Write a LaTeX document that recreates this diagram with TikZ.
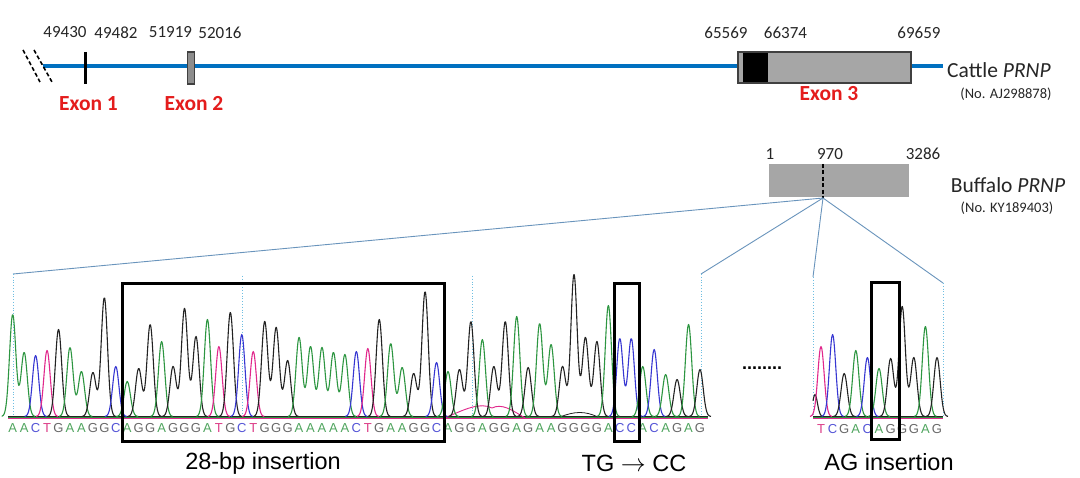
\documentclass[tikz,border=0pt]{standalone}
\usepackage{fontspec}
\setmainfont{Carlito}
\newfontfamily\arialf{Liberation Sans}
\definecolor{lineblue}{RGB}{0,112,192}
\definecolor{exred}{RGB}{228,28,28}
\definecolor{boxgray}{RGB}{166,166,166}
\definecolor{conn}{RGB}{105,148,188}
\definecolor{dotc}{RGB}{110,190,225}
\definecolor{colA}{RGB}{45,150,65}
\definecolor{colC}{RGB}{55,55,210}
\definecolor{colG}{RGB}{35,35,35}
\definecolor{colT}{RGB}{225,40,140}
\definecolor{letA}{RGB}{80,165,95}
\definecolor{letC}{RGB}{85,85,215}
\definecolor{letG}{RGB}{105,105,105}
\definecolor{letT}{RGB}{220,60,135}
\tikzset{
  numlbl/.style={font=\fontsize{17}{19}\selectfont, text=black!85, inner sep=0},
  exlbl/.style={font=\fontsize{21.5}{23}\selectfont\bfseries, text=exred, inner sep=0},
  genelbl/.style={font=\fontsize{21.5}{24}\selectfont, text=black!85, inner sep=0},
  acclbl/.style={font=\fontsize{14.5}{16}\selectfont, text=black!85, inner sep=0},
  botlbl/.style={font=\arialf\fontsize{23.5}{26}\selectfont, text=black, inner sep=0},
  seqlet/.style={font=\arialf\fontsize{13}{14}\selectfont, inner sep=0},
  connline/.style={conn, line width=0.9},
  dotv/.style={dotc, dotted, line width=0.8},
  hlbox/.style={draw=black, line width=3},
  peak/.style={line width=1.1, line join=round}
}
% one run of same-coloured peaks: #1 base letter, #2 x of index 0, #3 spacing, #4 first index, #5 heights
\newcommand\chrun[5]{%
  \gdef\pkexpr{0}%
  \foreach \hh [count=\k from 0] in {#5} {%
    \pgfmathsetmacro\xk{#2+#3*(#4+\k)}%
    \xdef\pkexpr{\unexpanded\expandafter{\pkexpr}+\hh*exp(-((\noexpand\x-\xk)^2)/20)}%
    \xdef\xlast{\xk}%
  }%
  \pgfmathsetmacro\xfirst{#2+#3*#4}%
  \pgfmathtruncatemacro\nsamp{(\xlast-\xfirst+22)*1.3+5}%
  \draw[peak,col#1] plot[domain=\xfirst-11:\xlast+11, samples=\nsamp, smooth] (\x,{416.5-(\pkexpr)});
}
\begin{document}
\begin{tikzpicture}[x=1pt,y=-1pt]
\useasboundingbox (0,0) rectangle (1080,478);
\fill[white] (0,0) rectangle (1080,478);

% ---------------- Cattle PRNP ----------------
\coordinate (bl0) at (43,66);
\coordinate (bl1) at (738,66);
\coordinate (bl2) at (911,66);
\coordinate (bl3) at (943,66);
\draw[lineblue, line width=4] (bl0) -- (bl1);
\draw[lineblue, line width=4] (bl2) -- (bl3);
\coordinate (s1a) at (23,50); \coordinate (s1b) at (40,82);
\coordinate (s2a) at (34,50); \coordinate (s2b) at (52,82);
\draw[line width=1.6, dash pattern=on 4pt off 2.5pt] (s1a) -- (s1b);
\draw[line width=1.6, dash pattern=on 4pt off 2.5pt] (s2a) -- (s2b);
% exon 1
\coordinate (e1a) at (85,52); \coordinate (e1b) at (85,84);
\draw[line width=3] (e1a) -- (e1b);
% exon 2
\node[draw=black!75, fill=boxgray!85!black, line width=1.2, minimum width=6.6pt, minimum height=32pt, inner sep=0] (ex2) at (191,68) {};
% exon 3
\fill[boxgray] (738,52) rectangle (911,83);
\fill[black] (743,52) rectangle (768,83);
\draw[black!75, line width=1.3] (738,52) rectangle (911,83);

\node[numlbl] (n1) at (65,32.5) {49430};
\node[numlbl] (n2) at (116,32.5) {49482};
\node[numlbl] (n3) at (170.5,32.5) {51919};
\node[numlbl] (n4) at (220,32.5) {52016};
\node[numlbl] (n5) at (726,32.5) {65569};
\node[numlbl] (n6) at (785.5,32.5) {66374};
\node[numlbl] (n7) at (919,32.5) {69659};

\node[exlbl] (x1) at (88.5,104) {Exon 1};
\node[exlbl] (x2) at (194,104) {Exon 2};
\node[exlbl] (x3) at (829,94) {Exon 3};

\node[genelbl, anchor=west] (cattle) at (947,70) {Cattle \textit{PRNP}};
\node[acclbl] (cacc) at (1006,94) {(No. AJ298878)};

% ---------------- Buffalo PRNP ----------------
\fill[boxgray] (769,164) rectangle (909,197);
\coordinate (b970t) at (823,164);
\coordinate (b970) at (823,198);
\draw[line width=2.6, dash pattern=on 4pt off 2.4pt] (b970t) -- (b970);
\node[numlbl] (m1) at (770,154) {1};
\node[numlbl] (m2) at (830,154) {970};
\node[numlbl] (m3) at (923,154) {3286};
\node[genelbl] (buff) at (1008,185) {Buffalo \textit{PRNP}};
\node[acclbl] (bacc) at (1007,208.5) {(No. KY189403)};

% connectors
\coordinate (cL1) at (13,274);
\coordinate (cL2) at (701,274);
\coordinate (cR1) at (813,277);
\coordinate (cR2) at (943,283);
\coordinate (dL1) at (13,415);
\coordinate (dL2) at (701,415);
\coordinate (dR1) at (813,415);
\coordinate (dR2) at (943,415);
\draw[connline] (b970) -- (cL1);
\draw[connline] (b970) -- (cL2);
\draw[connline] (b970) -- (cR1);
\draw[connline] (b970) -- (cR2);
\draw[dotv] (cL1) -- (dL1);
\draw[dotv] (cL2) -- (dL2);
\draw[dotv] (cR1) -- (dR1);
\draw[dotv] (cR2) -- (dR2);
\coordinate (mk1a) at (242,276); \coordinate (mk1b) at (242,415);
\coordinate (mk2a) at (472,276); \coordinate (mk2b) at (472,415);
\draw[dotv] (mk1a) -- (mk1b);
\draw[dotv] (mk2a) -- (mk2b);

% ---------------- chromatogram left ----------------
\draw[colA, line width=0.7] (8,417.5) -- (708,417.5);
\draw[colC, line width=0.7] (8,416.8) -- (708,416.8);
\draw[colT, line width=0.8] (8,418.3) -- (708,418.3);
\draw[colG, line width=0.8] (8,416.2) -- (708,416.2);
\draw[colT, line width=0.9] (445,418) .. controls (465,409) and (480,402) .. (492,408) .. controls (502,403) and (512,410) .. (525,418);
\draw[colG, line width=0.8] (560,417) .. controls (575,411) and (585,411) .. (598,417);

\def\xa{12.7}\def\dxa{11.455}
\chrun{A}{\xa}{\dxa}{0}{102,64}
\chrun{C}{\xa}{\dxa}{2}{61}
\chrun{T}{\xa}{\dxa}{3}{66}
\chrun{G}{\xa}{\dxa}{4}{87}
\chrun{A}{\xa}{\dxa}{5}{69,45}
\chrun{G}{\xa}{\dxa}{7}{44,119}
\chrun{C}{\xa}{\dxa}{9}{50}
\chrun{A}{\xa}{\dxa}{10}{35}
\chrun{G}{\xa}{\dxa}{11}{48,92}
\chrun{A}{\xa}{\dxa}{13}{75}
\chrun{G}{\xa}{\dxa}{14}{50,108,80}
\chrun{A}{\xa}{\dxa}{17}{97}
\chrun{T}{\xa}{\dxa}{18}{70}
\chrun{G}{\xa}{\dxa}{19}{104}
\chrun{C}{\xa}{\dxa}{20}{82}
\chrun{T}{\xa}{\dxa}{21}{65}
\chrun{G}{\xa}{\dxa}{22}{95,89,56}
\chrun{A}{\xa}{\dxa}{25}{79,70,69,64,62}
\chrun{C}{\xa}{\dxa}{30}{65}
\chrun{T}{\xa}{\dxa}{31}{68}
\chrun{G}{\xa}{\dxa}{32}{97}
\chrun{A}{\xa}{\dxa}{33}{73,49}
\chrun{G}{\xa}{\dxa}{35}{43,125}
\chrun{C}{\xa}{\dxa}{37}{54}
\chrun{A}{\xa}{\dxa}{38}{45}
\chrun{G}{\xa}{\dxa}{39}{47,95}
\chrun{A}{\xa}{\dxa}{41}{77}
\chrun{G}{\xa}{\dxa}{42}{50,95}
\chrun{A}{\xa}{\dxa}{44}{100}
\chrun{G}{\xa}{\dxa}{45}{49}
\chrun{A}{\xa}{\dxa}{46}{93,72}
\chrun{G}{\xa}{\dxa}{48}{50,142,79,75}
\chrun{A}{\xa}{\dxa}{52}{111}
\chrun{C}{\xa}{\dxa}{53}{78,78}
\chrun{A}{\xa}{\dxa}{55}{50}
\chrun{C}{\xa}{\dxa}{56}{67}
\chrun{A}{\xa}{\dxa}{57}{42}
\chrun{G}{\xa}{\dxa}{58}{37}
\chrun{A}{\xa}{\dxa}{59}{92}
\chrun{G}{\xa}{\dxa}{60}{47}

\foreach \b [count=\i from 0] in {A,A,C,T,G,A,A,G,G,C,
  A,G,G,A,G,G,G,A,T,G,C,T,G,G,G,A,A,A,A,A,C,T,G,A,A,G,G,C,
  A,G,G,A,G,G,A,G,A,A,G,G,G,G,A,C,C,A,C,A,G,A,G}{
  \pgfmathsetmacro\xc{\xa+\dxa*\i}
  \node[seqlet, text=let\b] (L\i) at (\xc,428.5) {\b};
}

% ---------------- chromatogram right ----------------
\draw[colA, line width=0.7] (813,417.5) -- (943,417.5);
\draw[colT, line width=0.8] (813,418.3) -- (943,418.3);
\draw[colG, line width=0.8] (813,416.2) -- (943,416.2);
\draw[peak, colG] plot[domain=813:823, samples=11, smooth] (\x,{416.5-22*exp(-((\x-815)^2)/12)});
\def\xb{821}\def\dxb{11.6}
\chrun{T}{\xb}{\dxb}{0}{70}
\chrun{C}{\xb}{\dxb}{1}{82}
\chrun{G}{\xb}{\dxb}{2}{43}
\chrun{A}{\xb}{\dxb}{3}{66}
\chrun{C}{\xb}{\dxb}{4}{59}
\chrun{A}{\xb}{\dxb}{5}{48}
\chrun{G}{\xb}{\dxb}{6}{58,110,59}
\chrun{A}{\xb}{\dxb}{9}{90}
\chrun{G}{\xb}{\dxb}{10}{59}
\foreach \b [count=\i from 0] in {T,C,G,A,C,A,G,G,G,A,G}{
  \pgfmathsetmacro\xc{\xb+\dxb*\i}
  \node[seqlet, text=let\b] (R\i) at (\xc,429) {\b};
}

% highlight boxes
\node[hlbox, minimum width=322pt, minimum height=158pt, inner sep=0] (box28) at (283,363) {};
\node[hlbox, minimum width=25pt, minimum height=158pt, inner sep=0] (boxtg) at (626.5,363) {};
\node[hlbox, minimum width=28pt, minimum height=157pt, inner sep=0] (boxag) at (885,361.5) {};

% ellipsis
\node[font=\arialf\fontsize{18}{20}\selectfont\bfseries, inner sep=0] (dots) at (762,368) {........};

% bottom labels
\node[botlbl] (t28) at (263,463) {28-bp insertion};
\node[botlbl] (ttg) at (634,463) {TG $\rightarrow$ CC};
\node[botlbl] (tag) at (889,462) {AG insertion};
\end{tikzpicture}
\end{document}
